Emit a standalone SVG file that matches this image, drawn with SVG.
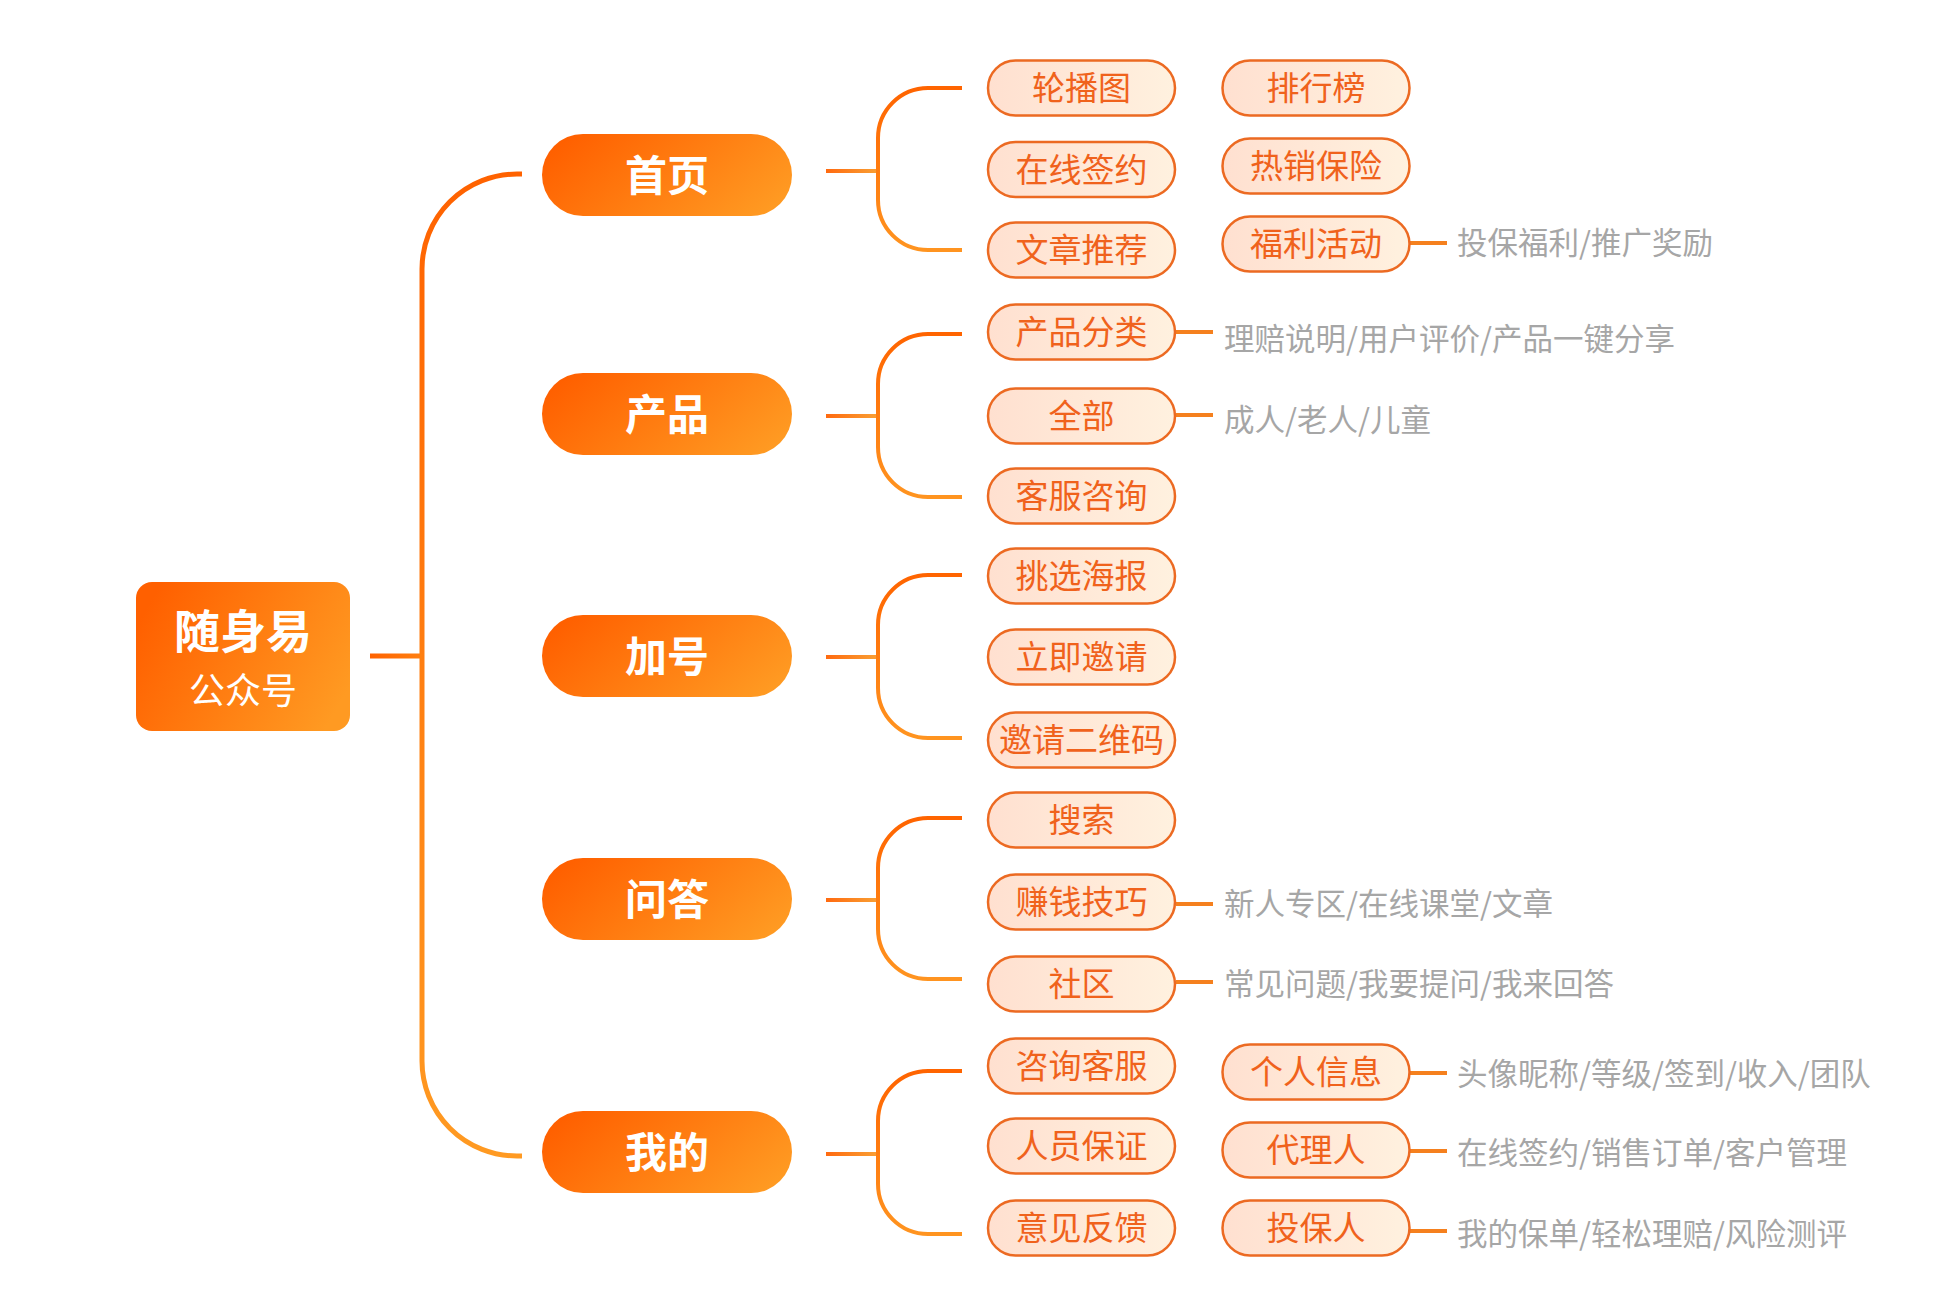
<svg xmlns="http://www.w3.org/2000/svg" width="1960" height="1314" viewBox="0 0 1960 1314">
<defs>
<linearGradient id="gMain" x1="0" y1="0.3" x2="1" y2="0.7"><stop offset="0" stop-color="#ff6000"/><stop offset="1" stop-color="#ff9a22"/></linearGradient>
<linearGradient id="gLight" x1="0" y1="0" x2="1" y2="0"><stop offset="0" stop-color="#ffe0d0"/><stop offset="1" stop-color="#fff1df"/></linearGradient>
<linearGradient id="gSpine" gradientUnits="userSpaceOnUse" x1="0" y1="174" x2="0" y2="1156"><stop offset="0" stop-color="#ff6200"/><stop offset="1" stop-color="#ff9a22"/></linearGradient>
<linearGradient id="gBr" x1="0" y1="0" x2="0" y2="1"><stop offset="0" stop-color="#ff6400"/><stop offset="1" stop-color="#ff9420"/></linearGradient>
<linearGradient id="gH1" gradientUnits="userSpaceOnUse" x1="826" y1="0" x2="878" y2="0"><stop offset="0" stop-color="#ff6a10"/><stop offset="1" stop-color="#f9a034"/></linearGradient>
<linearGradient id="gRoot" gradientUnits="userSpaceOnUse" x1="370" y1="0" x2="422" y2="0"><stop offset="0" stop-color="#ff6200"/><stop offset="1" stop-color="#ff8010"/></linearGradient>
</defs>
<style>
.main{fill:url(#gMain)}
.l1t{font-family:"Noto Sans CJK SC",sans-serif;font-weight:700;font-size:42px;fill:#fff;text-anchor:middle}
.l2{fill:url(#gLight);stroke:#ec6a22;stroke-width:2.5}
.l2t{font-family:"Noto Sans CJK SC",sans-serif;font-size:33px;fill:#f0621c;text-anchor:middle}
.gt{font-family:"Noto Sans CJK SC",sans-serif;font-size:30.5px;fill:#a6a6a6}
.br{fill:none;stroke:url(#gBr);stroke-width:4}
.h1{stroke:url(#gH1);stroke-width:4}
.dl{stroke:#f5801e;stroke-width:4}
</style>
<rect width="1960" height="1314" fill="#fff"/>
<g id="connectors">
<path d="M522 174 H517 A95 95 0 0 0 422 269 V1061 A95 95 0 0 0 517 1156 H522" fill="none" stroke="url(#gSpine)" stroke-width="5"/>
<line x1="370" y1="656" x2="422" y2="656" stroke="url(#gRoot)" stroke-width="5"/>
<line class="h1" x1="826" y1="171" x2="878" y2="171"/>
<path class="br" d="M962 88 H928 A50 50 0 0 0 878 138 V200 A50 50 0 0 0 928 250 H962"/>
<line class="h1" x1="826" y1="416" x2="878" y2="416"/>
<path class="br" d="M962 334 H928 A50 50 0 0 0 878 384 V447 A50 50 0 0 0 928 497 H962"/>
<line class="h1" x1="826" y1="657" x2="878" y2="657"/>
<path class="br" d="M962 575 H928 A50 50 0 0 0 878 625 V688 A50 50 0 0 0 928 738 H962"/>
<line class="h1" x1="826" y1="900" x2="878" y2="900"/>
<path class="br" d="M962 818 H928 A50 50 0 0 0 878 868 V929 A50 50 0 0 0 928 979 H962"/>
<line class="h1" x1="826" y1="1154" x2="878" y2="1154"/>
<path class="br" d="M962 1071 H928 A50 50 0 0 0 878 1121 V1184 A50 50 0 0 0 928 1234 H962"/>
<line class="dl" x1="1410" y1="243" x2="1447" y2="243"/>
<line class="dl" x1="1176" y1="332" x2="1213" y2="332"/>
<line class="dl" x1="1176" y1="415" x2="1213" y2="415"/>
<line class="dl" x1="1176" y1="904" x2="1213" y2="904"/>
<line class="dl" x1="1176" y1="982" x2="1213" y2="982"/>
<line class="dl" x1="1410" y1="1073" x2="1447" y2="1073"/>
<line class="dl" x1="1410" y1="1151" x2="1447" y2="1151"/>
<line class="dl" x1="1410" y1="1231" x2="1447" y2="1231"/>
</g>
<g id="root">
<rect x="136" y="582" width="214" height="149" rx="16" fill="url(#gMain)"/>
<text x="243" y="648" font-family="Noto Sans CJK SC,sans-serif" font-weight="700" font-size="46" fill="#fff" text-anchor="middle">随身易</text>
<text x="243" y="704" font-family="Noto Sans CJK SC,sans-serif" font-size="36" fill="#fff" text-anchor="middle">公众号</text>
</g>
<g id="n-shouye"><rect class="main" x="542" y="134" width="250" height="82" rx="41"/><text class="l1t" x="667" y="191">首页</text></g>
<g id="n-chanpin"><rect class="main" x="542" y="373" width="250" height="82" rx="41"/><text class="l1t" x="667" y="430">产品</text></g>
<g id="n-jiahao"><rect class="main" x="542" y="615" width="250" height="82" rx="41"/><text class="l1t" x="667" y="672">加号</text></g>
<g id="n-wenda"><rect class="main" x="542" y="858" width="250" height="82" rx="41"/><text class="l1t" x="667" y="915">问答</text></g>
<g id="n-wode"><rect class="main" x="542" y="1111" width="250" height="82" rx="41"/><text class="l1t" x="667" y="1168">我的</text></g>
<g id="c-lunbotu"><rect class="l2" x="988" y="60.5" width="187" height="55" rx="27.5"/><text class="l2t" x="1081.5" y="100">轮播图</text></g>
<g id="c-zaixian"><rect class="l2" x="988" y="142" width="187" height="55" rx="27.5"/><text class="l2t" x="1081.5" y="181.5">在线签约</text></g>
<g id="c-wenzhang"><rect class="l2" x="988" y="222.5" width="187" height="55" rx="27.5"/><text class="l2t" x="1081.5" y="262">文章推荐</text></g>
<g id="c-paihang"><rect class="l2" x="1222.5" y="60.5" width="187" height="55" rx="27.5"/><text class="l2t" x="1316" y="100">排行榜</text></g>
<g id="c-rexiao"><rect class="l2" x="1222.5" y="138.5" width="187" height="55" rx="27.5"/><text class="l2t" x="1316" y="178">热销保险</text></g>
<g id="c-fuli"><rect class="l2" x="1222.5" y="216.5" width="187" height="55" rx="27.5"/><text class="l2t" x="1316" y="256">福利活动</text></g>
<g id="c-fenlei"><rect class="l2" x="988" y="304.5" width="187" height="55" rx="27.5"/><text class="l2t" x="1081.5" y="344">产品分类</text></g>
<g id="c-quanbu"><rect class="l2" x="988" y="388.5" width="187" height="55" rx="27.5"/><text class="l2t" x="1081.5" y="428">全部</text></g>
<g id="c-kefu"><rect class="l2" x="988" y="468.5" width="187" height="55" rx="27.5"/><text class="l2t" x="1081.5" y="508">客服咨询</text></g>
<g id="c-haibao"><rect class="l2" x="988" y="548.5" width="187" height="55" rx="27.5"/><text class="l2t" x="1081.5" y="588">挑选海报</text></g>
<g id="c-yaoqing"><rect class="l2" x="988" y="629.5" width="187" height="55" rx="27.5"/><text class="l2t" x="1081.5" y="669">立即邀请</text></g>
<g id="c-erweima"><rect class="l2" x="988" y="712.5" width="187" height="55" rx="27.5"/><text class="l2t" x="1081.5" y="752">邀请二维码</text></g>
<g id="c-sousuo"><rect class="l2" x="988" y="792.5" width="187" height="55" rx="27.5"/><text class="l2t" x="1081.5" y="832">搜索</text></g>
<g id="c-zhuanqian"><rect class="l2" x="988" y="874.5" width="187" height="55" rx="27.5"/><text class="l2t" x="1081.5" y="914">赚钱技巧</text></g>
<g id="c-shequ"><rect class="l2" x="988" y="956.5" width="187" height="55" rx="27.5"/><text class="l2t" x="1081.5" y="996">社区</text></g>
<g id="c-zixun"><rect class="l2" x="988" y="1038.5" width="187" height="55" rx="27.5"/><text class="l2t" x="1081.5" y="1078">咨询客服</text></g>
<g id="c-renyuan"><rect class="l2" x="988" y="1118.5" width="187" height="55" rx="27.5"/><text class="l2t" x="1081.5" y="1158">人员保证</text></g>
<g id="c-yijian"><rect class="l2" x="988" y="1200.5" width="187" height="55" rx="27.5"/><text class="l2t" x="1081.5" y="1240">意见反馈</text></g>
<g id="c-geren"><rect class="l2" x="1222.5" y="1044.5" width="187" height="55" rx="27.5"/><text class="l2t" x="1316" y="1084">个人信息</text></g>
<g id="c-daili"><rect class="l2" x="1222.5" y="1122.5" width="187" height="55" rx="27.5"/><text class="l2t" x="1316" y="1162">代理人</text></g>
<g id="c-toubao"><rect class="l2" x="1222.5" y="1200.5" width="187" height="55" rx="27.5"/><text class="l2t" x="1316" y="1240">投保人</text></g>
<g id="details">
<text class="gt" x="1457" y="254">投保福利/推广奖励</text>
<text class="gt" x="1224" y="350">理赔说明/用户评价/产品一键分享</text>
<text class="gt" x="1224" y="431">成人/老人/儿童</text>
<text class="gt" x="1224" y="915">新人专区/在线课堂/文章</text>
<text class="gt" x="1224" y="995">常见问题/我要提问/我来回答</text>
<text class="gt" x="1457" y="1085">头像昵称/等级/签到/收入/团队</text>
<text class="gt" x="1457" y="1164">在线签约/销售订单/客户管理</text>
<text class="gt" x="1457" y="1245">我的保单/轻松理赔/风险测评</text>
</g>
</svg>
